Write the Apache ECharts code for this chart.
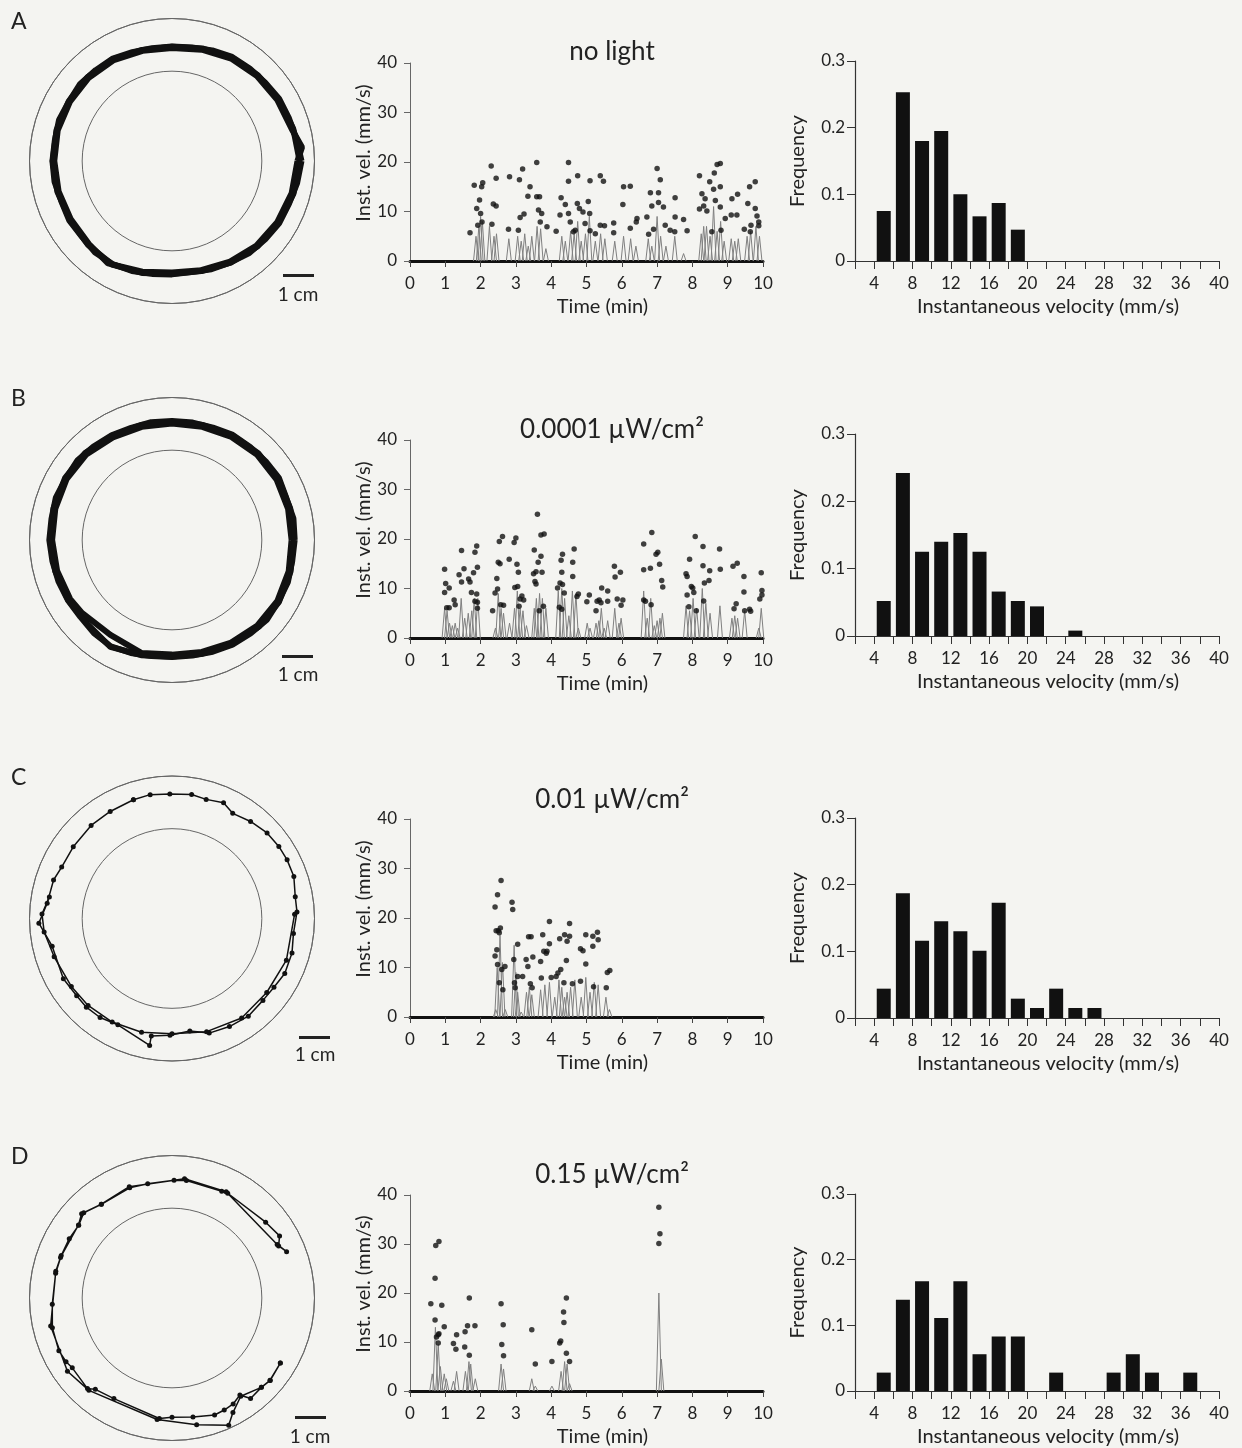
<!DOCTYPE html>
<html>
<head>
<meta charset="utf-8">
<script src="https://cdn.jsdelivr.net/npm/echarts@6/dist/echarts.min.js"></script>
<style>
  html, body { margin: 0; padding: 0; background: #f4f4f1; }
  #chart { width: 1242px; height: 1448px; }
</style>
</head>
<body>
<div id="chart"></div>
<script>
const FONT = 'Lato, "Noto Sans", sans-serif';

// panel labels and titles
const rowLetters = ['A', 'B', 'C', 'D'];
const rowTitles = ['no light', '0.0001 µW/cm²', '0.01 µW/cm²', '0.15 µW/cm²'];

// histogram bins (centres, mm/s) and frequencies
const binCenters = [5, 7, 9, 11, 13, 15, 17, 19, 21, 23, 25, 27, 29, 31, 33, 35, 37, 39];
const freqA = [0.075, 0.253, 0.18, 0.195, 0.10, 0.067, 0.087, 0.047, 0, 0, 0, 0, 0, 0, 0, 0, 0, 0];
const freqB = [0.052, 0.242, 0.125, 0.14, 0.153, 0.125, 0.066, 0.052, 0.044, 0, 0.008, 0, 0, 0, 0, 0, 0, 0];
const freqC = [0.044, 0.187, 0.116, 0.145, 0.13, 0.101, 0.173, 0.029, 0.015, 0.044, 0.015, 0.015, 0, 0, 0, 0, 0, 0];
const freqD = [0.028, 0.139, 0.167, 0.111, 0.167, 0.056, 0.083, 0.083, 0, 0.028, 0, 0, 0.028, 0.056, 0.028, 0, 0.028, 0];

// instantaneous velocity dots [min, mm/s]
const dotsA = [[1.70,5.7],[1.82,15.3],[1.89,10.6],[1.92,7.2],[1.97,12.3],[2.0,9.6],[2.03,15.0],[2.06,15.8],[2.04,7.9],[2.30,19.2],[2.32,7.4],[2.36,11.5],[2.44,11.1],[2.44,16.7],[2.79,6.4],[2.82,17.0],[3.07,6.2],[3.12,8.8],[3.10,16.4],[3.19,18.6],[3.23,9.5],[3.34,13.1],[3.40,15.0],[3.59,19.9],[3.59,13.0],[3.67,13.0],[3.64,10.3],[3.69,7.9],[3.73,9.6],[3.88,6.9],[4.14,6.0],[4.28,12.8],[4.25,9.3],[4.40,11.4],[4.49,19.9],[4.49,16.1],[4.49,9.6],[4.54,7.9],[4.63,5.9],[4.68,6.2],[4.74,11.6],[4.75,17.2],[4.80,10.6],[4.90,9.9],[4.96,7.6],[5.05,12.0],[5.10,16.2],[5.09,9.6],[5.10,6.1],[5.25,5.5],[5.39,17.2],[5.39,7.2],[5.48,16.1],[5.51,7.1],[5.77,7.7],[5.77,5.7],[6.03,11.4],[6.05,15.0],[6.24,15.1],[6.24,6.6],[6.41,7.9],[6.43,8.6],[6.71,8.9],[6.76,5.4],[6.81,13.8],[6.85,11.1],[6.90,6.4],[7.0,18.7],[7.04,13.8],[7.04,11.8],[7.09,16.4],[7.18,10.9],[7.23,7.2],[7.37,6.2],[7.50,5.9],[7.51,12.8],[7.51,8.9],[7.75,8.4],[7.85,6.1],[8.20,17.2],[8.20,10.5],[8.27,13.6],[8.32,11.1],[8.36,12.6],[8.41,10.1],[8.49,16.0],[8.55,5.9],[8.62,17.8],[8.60,14.5],[8.65,12.2],[8.70,19.5],[8.79,19.7],[8.79,15.0],[8.79,10.9],[8.81,6.2],[8.93,8.6],[9.10,9.3],[9.12,12.6],[9.26,9.3],[9.28,13.5],[9.47,6.4],[9.57,11.6],[9.62,15.0],[9.64,5.9],[9.66,7.2],[9.78,16.0],[9.78,10.6],[9.83,9.1],[9.88,7.9],[9.88,7.1]];
const dotsB = [[0.98,13.9],[0.98,9.2],[1.01,11.0],[1.04,6.1],[1.11,6.1],[1.11,10.1],[1.25,7.7],[1.28,6.7],[1.39,12.8],[1.46,17.7],[1.46,11.3],[1.53,14.0],[1.66,11.9],[1.70,11.3],[1.74,9.2],[1.80,13.2],[1.84,17.3],[1.84,7.4],[1.89,18.6],[1.91,14.3],[1.89,8.9],[1.91,7.2],[1.91,6.0],[2.34,5.5],[2.41,9.1],[2.46,12.0],[2.48,9.9],[2.50,15.3],[2.55,15.0],[2.53,19.5],[2.62,20.5],[2.57,6.7],[2.65,6.6],[2.81,15.9],[2.95,19.3],[3.0,20.2],[3.03,14.9],[2.97,10.2],[3.05,10.4],[3.07,13.3],[3.09,6.4],[3.12,7.9],[3.17,8.5],[3.22,7.7],[3.52,17.8],[3.50,13.0],[3.57,13.4],[3.54,11.4],[3.57,10.9],[3.61,25.0],[3.63,15.3],[3.71,16.5],[3.71,20.8],[3.80,21.0],[3.74,13.3],[3.66,5.5],[3.78,6.4],[4.18,10.1],[4.25,11.1],[4.28,15.7],[4.32,16.9],[4.30,13.3],[4.32,10.8],[4.37,9.1],[4.23,6.2],[4.30,5.8],[4.61,15.3],[4.61,12.4],[4.65,18.0],[4.73,8.4],[4.77,8.9],[5.01,7.3],[5.08,8.7],[5.27,5.5],[5.30,7.4],[5.36,7.7],[5.43,10.1],[5.41,7.1],[5.60,7.4],[5.60,9.5],[5.79,14.5],[5.81,12.3],[5.96,13.3],[5.87,7.9],[5.98,6.6],[6.03,7.7],[6.62,19.0],[6.62,13.8],[6.62,7.7],[6.67,7.4],[6.81,14.1],[6.85,21.3],[6.83,6.7],[6.97,16.9],[7.02,17.3],[7.07,14.9],[7.13,11.6],[7.16,10.3],[7.82,13.0],[7.85,12.4],[7.85,8.7],[7.90,6.3],[7.92,15.9],[7.97,10.4],[8.01,10.1],[8.04,9.2],[8.11,5.5],[8.08,20.5],[8.30,14.6],[8.30,18.5],[8.32,7.5],[8.34,11.1],[8.47,11.6],[8.49,13.6],[8.77,18.0],[8.79,13.9],[9.15,14.5],[9.18,5.9],[9.24,6.9],[9.27,15.1],[9.46,12.4],[9.46,9.3],[9.48,5.5],[9.62,5.8],[9.65,5.4],[9.91,7.9],[9.95,13.2],[9.97,8.7],[9.97,9.6]];
const dotsC = [[2.41,12.3],[2.41,22.2],[2.44,17.4],[2.46,13.6],[2.48,24.7],[2.48,10.6],[2.50,17.4],[2.53,17.0],[2.53,6.9],[2.56,18.0],[2.58,27.6],[2.60,9.6],[2.63,5.5],[2.69,10.2],[2.89,23.2],[2.91,21.7],[2.94,11.6],[2.96,6.9],[2.98,5.9],[3.05,14.7],[3.05,8.2],[3.19,8.2],[3.29,11.6],[3.34,10.2],[3.36,16.2],[3.43,16.2],[3.41,6.7],[3.46,5.9],[3.48,12.1],[3.70,11.2],[3.72,7.9],[3.76,16.6],[3.79,13.3],[3.86,12.9],[3.88,13.3],[3.95,19.3],[3.95,14.8],[4.0,8.0],[4.14,8.2],[4.19,8.9],[4.24,15.8],[4.27,9.6],[4.36,6.9],[4.38,16.6],[4.43,11.4],[4.45,15.3],[4.52,16.3],[4.52,18.9],[4.60,6.7],[4.83,7.2],[4.83,13.8],[4.90,13.4],[4.98,16.6],[4.98,10.7],[5.18,16.3],[5.18,14.3],[5.20,6.1],[5.31,17.1],[5.33,15.6],[5.56,5.9],[5.59,9.0],[5.66,9.4]];
const dotsD = [[0.59,17.8],[0.71,23.0],[0.73,29.7],[0.71,14.5],[0.75,11.0],[0.80,11.5],[0.80,9.8],[0.82,30.5],[0.82,11.7],[0.90,17.5],[0.97,13.1],[1.23,9.7],[1.30,8.5],[1.32,11.5],[1.55,9.0],[1.56,12.1],[1.63,13.3],[1.68,19.0],[1.68,7.3],[1.84,13.3],[2.58,17.8],[2.60,9.5],[2.64,13.5],[2.65,7.2],[3.45,12.5],[3.55,5.5],[4.02,6.0],[4.24,9.8],[4.27,10.2],[4.35,16.1],[4.36,14.0],[4.43,19.0],[4.43,7.7],[4.52,6.0],[7.05,37.5],[7.08,32.1],[7.05,30.1]];

// continuous velocity trace: peak [min, mm/s]
const spikesA = [[1.87,5],[1.95,7],[2.0,9],[2.05,8],[2.25,7],[2.38,5],[2.45,5.5],[2.80,4.5],[3.05,5],[3.15,4],[3.25,5.5],[3.35,3],[3.45,5],[3.60,7],[3.70,6.5],[3.85,2.5],[4.30,5],[4.40,4],[4.55,6],[4.65,5.5],[4.75,8],[4.85,4],[4.97,5.5],[5.08,9],[5.25,4],[5.40,5.5],[5.52,4.5],[5.80,4],[6.05,5],[6.25,4.5],[6.40,3],[6.75,4.5],[6.85,3],[7.0,9],[7.10,5],[7.25,3],[7.50,5],[7.75,1.5],[8.25,5.5],[8.32,7],[8.40,7],[8.50,5],[8.60,11],[8.70,6],[8.80,8],[8.90,4],[9.10,4.5],[9.20,4],[9.30,4.5],[9.55,5],[9.65,6],[9.80,7],[9.90,5]];
const spikesB = [[0.98,6],[1.05,5.5],[1.12,3],[1.20,2.5],[1.28,3],[1.35,2],[1.45,8],[1.55,4],[1.65,5],[1.75,5.5],[1.82,8],[1.92,8],[2.42,2],[2.50,9],[2.58,6],[2.65,5],[2.82,3],[2.96,6],[3.04,9.5],[3.12,6],[3.20,5.5],[3.30,2.5],[3.52,6],[3.58,8],[3.67,9],[3.75,8],[3.85,6],[4.20,9.5],[4.30,10],[4.38,8],[4.50,4.5],[4.60,9.5],[4.70,9],[4.77,2],[5.02,3],[5.10,2],[5.27,3],[5.35,3.5],[5.42,6],[5.50,2],[5.60,3.5],[5.80,6],[5.92,3],[5.98,4],[6.62,9.5],[6.72,4],[6.82,8],[6.92,2.5],[7.0,3.5],[7.08,4],[7.15,5],[7.82,6.5],[7.92,5.5],[8.02,8],[8.12,6],[8.28,10],[8.38,7],[8.50,5],[8.78,6.5],[9.12,4],[9.20,4.5],[9.28,4],[9.48,5.5],[9.88,2],[9.95,6]];
const spikesC = [[2.43,1.5],[2.47,10],[2.55,16.5],[2.62,11],[2.70,1.5],[2.95,14.5],[3.00,9],[3.05,5],[3.15,1],[3.30,5],[3.38,6],[3.45,4.5],[3.70,5.5],[3.82,6.5],[3.95,7],[4.10,4],[4.22,7.5],[4.30,6],[4.38,4],[4.45,5],[4.55,6],[4.67,7.5],[4.85,4],[4.98,8],[5.10,5],[5.22,7],[5.33,6.5],[5.55,4],[5.65,1.5]];
const spikesD = [[0.63,3.5],[0.72,13],[0.80,9.5],[0.86,5],[0.97,3.5],[1.03,2.5],[1.23,2],[1.32,4],[1.57,4],[1.67,6],[1.72,5.5],[1.85,2.5],[2.58,5.5],[2.65,4.5],[3.45,2.5],[3.55,1],[4.02,1],[4.28,4],[4.38,6],[4.45,5.5],[4.52,1.5],[7.05,20],[7.12,6.5]];

// arena trajectories [radius cm, angle deg ccw from east]
const pathA1 = [[4.12,0],[4.05,15],[3.97,30],[3.92,45],[3.86,60],[3.76,75],[3.69,90],[3.71,105],[3.80,120],[3.84,135],[3.85,150],[3.86,165],[3.85,180],[3.83,195],[3.80,210],[3.83,225],[3.86,240],[3.74,255],[3.64,270],[3.68,285],[3.79,300],[3.90,315],[3.97,330],[4.06,345],[4.12,360]];
const pathA2 = [[4.05,0],[4.22,6],[4.0,15],[3.93,30],[3.88,45],[3.82,60],[3.72,75],[3.65,90],[3.68,105],[3.76,120],[3.80,135],[3.81,150],[3.82,165],[3.80,180],[3.79,195],[3.77,210],[3.79,225],[3.90,238],[3.70,255],[3.60,270],[3.65,285],[3.75,300],[3.86,315],[3.93,330],[4.0,345],[4.05,360]];
const pathA3 = [[4.18,0],[4.08,10],[4.02,20],[4.0,30],[3.93,40],[3.90,50],[3.88,60],[3.80,70],[3.72,80],[3.70,90],[3.70,100],[3.74,110],[3.82,120],[3.83,130],[3.87,140],[3.84,150],[3.88,160],[3.84,170],[3.86,180],[3.85,190],[3.80,200],[3.83,210],[3.80,220],[3.86,230],[3.84,240],[3.78,250],[3.70,260],[3.66,270],[3.64,280],[3.72,290],[3.78,300],[3.88,310],[3.93,320],[4.0,330],[4.02,340],[4.10,350],[4.18,360]];
const pathB1 = [[3.93,0],[3.95,15],[3.96,30],[3.95,45],[3.90,60],[3.84,75],[3.82,90],[3.84,105],[3.88,120],[3.97,135],[3.99,150],[3.96,165],[3.93,180],[3.90,195],[3.87,210],[3.85,225],[3.98,240],[3.85,255],[3.76,270],[3.80,285],[3.88,300],[3.96,315],[3.99,330],[3.96,345],[3.93,360]];
const pathB2 = [[3.86,0],[3.88,15],[3.90,30],[3.89,45],[3.84,60],[3.78,75],[3.76,90],[3.78,105],[3.82,120],[3.91,135],[3.93,150],[3.90,165],[3.87,180],[3.84,195],[3.80,210],[3.74,219],[3.65,237],[3.78,255],[3.70,270],[3.74,285],[3.82,300],[3.90,315],[3.93,330],[3.90,345],[3.86,360]];
const pathB3 = [[3.96,0],[3.98,10],[3.93,20],[3.99,30],[3.95,40],[3.92,50],[3.92,60],[3.86,70],[3.85,80],[3.84,90],[3.86,100],[3.85,110],[3.90,120],[3.94,130],[3.99,140],[3.96,150],[3.99,160],[3.95,170],[3.96,180],[3.92,190],[3.90,200],[3.88,210],[3.86,220],[3.92,230],[3.96,240],[3.88,250],[3.80,260],[3.78,270],[3.79,280],[3.84,290],[3.90,300],[3.94,310],[4.0,320],[3.97,330],[3.98,340],[3.94,350],[3.96,360]];
const pathC1 = [[4.03,108],[4.06,100],[4.02,91],[4.05,81],[4.0,74],[4.09,66],[3.92,60],[4.03,51],[4.13,42],[4.16,34],[4.17,27],[4.16,19],[4.04,10],[4.04,3],[3.95,353],[4.03,344],[4.05,334],[3.97,326],[3.95,318],[4.0,308],[3.95,298],[3.89,288],[3.68,279],[3.77,269],[3.85,260],[4.16,260],[3.85,243],[3.95,234],[3.98,226],[3.96,219],[4.01,209],[3.97,193],[4.3,182],[4.06,173],[4.02,162],[3.93,155],[3.94,144],[3.98,131],[3.99,120],[4.03,108]];
const pathC2 = [[3.96,2],[3.93,340],[3.88,322],[3.92,305],[3.82,287],[3.72,270],[3.80,255],[3.86,240],[3.90,226],[3.92,214],[4.0,198],[4.15,186],[4.2,178],[4.02,170]];
const pathD = [[4.08,329],[4.14,320],[4.08,315],[4.12,308],[3.82,305],[3.95,300],[3.99,295],[4.02,290],[3.90,280],[3.85,270],[3.91,264],[3.75,240],[3.85,230],[4.0,227],[3.93,215],[3.99,211],[4.03,205],[3.98,194],[3.87,183],[3.84,168],[3.83,159],[3.83,150],[3.82,142],[3.96,136],[3.79,127],[3.81,111],[3.77,102],[3.80,89],[3.82,83],[3.80,65],[3.83,62],[3.89,39],[4.01,30],[3.83,26],[3.99,22],[3.81,27],[3.85,63],[3.87,84],[3.85,111],[3.79,127],[3.99,137],[3.83,142],[3.83,160],[3.85,167],[4.02,193],[4.12,215],[4.01,228],[3.95,263],[4.17,281],[4.5,294],[4.19,298],[3.87,305],[4.08,315],[4.13,320],[4.08,329]];

// layout per row (pixels)
const rows = [
  { cy: 161,    tsTop: 63,   tsH: 198, hTop: 61,   hH: 200, barX: 283, barY: 274,  cmX: 298, cmY: 295,  letterY: 22,   titleY: 52 },
  { cy: 540,    tsTop: 440,  tsH: 198, hTop: 434,  hH: 202, barX: 282, barY: 655,  cmX: 298, cmY: 675,  letterY: 399,  titleY: 430 },
  { cy: 918.5,  tsTop: 819,  tsH: 198, hTop: 818,  hH: 200, barX: 299, barY: 1036, cmX: 315, cmY: 1055, letterY: 778,  titleY: 800 },
  { cy: 1298,   tsTop: 1195, tsH: 200, hTop: 1194, hH: 199, barX: 295, barY: 1416, cmX: 310, cmY: 1437, letterY: 1157, titleY: 1175 }
];
const paths = [[pathA1, pathA2, pathA3], [pathB1, pathB2, pathB3], [pathC1, pathC2], [pathD]];
const pathDots = [false, false, true, true];
const dots = [dotsA, dotsB, dotsC, dotsD];
const spikes = [spikesA, spikesB, spikesC, spikesD];
const freqs = [freqA, freqB, freqC, freqD];

const labelStyle = { color: '#222', fontSize: 17, fontFamily: FONT };
const nameStyle = { color: '#222', fontSize: 20, fontFamily: FONT };

const grid = [], xAxis = [], yAxis = [], polar = [], angleAxis = [], radiusAxis = [], series = [], graphic = [];

rows.forEach((r, i) => {
  // trajectory arena
  polar.push({ center: [172, r.cy], radius: 142.5 });
  angleAxis.push({
    polarIndex: i, type: 'value', min: 0, max: 360, startAngle: 0, clockwise: false,
    axisLine: { show: true, lineStyle: { color: '#666', width: 1 } },
    axisTick: { show: false }, axisLabel: { show: false }, splitLine: { show: false }
  });
  radiusAxis.push({
    polarIndex: i, type: 'value', min: 0, max: 4.6, interval: 2.9,
    axisLine: { show: false }, axisTick: { show: false }, axisLabel: { show: false },
    splitLine: { show: true, lineStyle: { color: '#666', width: 1 } }
  });
  paths[i].forEach(p => {
    series.push({
      type: 'line', coordinateSystem: 'polar', polarIndex: i, data: p,
      showSymbol: pathDots[i], symbol: 'circle', symbolSize: 5,
      itemStyle: { color: '#111' },
      lineStyle: { color: '#111', width: pathDots[i] ? 1.5 : 6 },
      silent: true, animation: false
    });
  });

  // time course
  grid.push({ left: 410, top: r.tsTop, width: 353, height: r.tsH });
  xAxis.push({
    gridIndex: 2 * i, type: 'value', min: 0, max: 10, interval: 1,
    name: 'Time (min)', nameLocation: 'middle', nameGap: 36,
    nameTextStyle: Object.assign({ padding: [0, 0, 0, 32] }, nameStyle),
    axisLine: { lineStyle: { color: '#111', width: 3 } },
    axisTick: { length: 6, lineStyle: { color: '#444', width: 1 } },
    axisLabel: Object.assign({ margin: 14 }, labelStyle),
    splitLine: { show: false }
  });
  yAxis.push({
    gridIndex: 2 * i, type: 'value', min: 0, max: 40, interval: 10,
    name: 'Inst. vel. (mm/s)', nameLocation: 'middle', nameGap: 33,
    nameTextStyle: Object.assign({ padding: [0, 0, 0, 18] }, nameStyle),
    axisLine: { show: true, lineStyle: { color: '#666', width: 1 } },
    axisTick: { show: true, length: 6, lineStyle: { color: '#666' } },
    axisLabel: Object.assign({ margin: 13 }, labelStyle),
    splitLine: { show: false }
  });
  series.push({
    type: 'custom', xAxisIndex: 2 * i, yAxisIndex: 2 * i, data: spikes[i],
    encode: { x: 0, y: 1 }, silent: true, animation: false,
    renderItem: (params, api) => {
      const base = api.coord([api.value(0), 0]);
      const top = api.coord([api.value(0), api.value(1)]);
      return {
        type: 'polyline',
        shape: { points: [[base[0] - 2.5, base[1]], top, [base[0] + 2.5, base[1]]] },
        style: { stroke: '#808080', lineWidth: 1, fill: null }
      };
    }
  });
  series.push({
    type: 'scatter', xAxisIndex: 2 * i, yAxisIndex: 2 * i, data: dots[i],
    symbolSize: 5.5, itemStyle: { color: '#111' }, silent: true, animation: false
  });

  // histogram
  grid.push({ left: 855, top: r.hTop, width: 364, height: r.hH });
  xAxis.push({
    gridIndex: 2 * i + 1, type: 'value', min: 2, max: 40, interval: 2,
    name: 'Instantaneous velocity (mm/s)', nameLocation: 'middle', nameGap: 36,
    nameTextStyle: Object.assign({ padding: [0, 0, 0, 22] }, nameStyle),
    axisLine: { lineStyle: { color: '#333', width: 1.2 } },
    axisTick: { length: 8, lineStyle: { color: '#333', width: 1 } },
    axisLabel: Object.assign({ margin: 14, formatter: v => (v % 4 === 0 ? String(v) : '') }, labelStyle),
    splitLine: { show: false }
  });
  yAxis.push({
    gridIndex: 2 * i + 1, type: 'value', min: 0, max: 0.3, interval: 0.1,
    name: 'Frequency', nameLocation: 'middle', nameGap: 47, nameTextStyle: nameStyle,
    axisLine: { show: true, lineStyle: { color: '#333', width: 1.2 } },
    axisTick: { show: true, length: 8, lineStyle: { color: '#333' } },
    axisLabel: Object.assign({ margin: 10 }, labelStyle),
    splitLine: { show: false }
  });
  series.push({
    type: 'bar', xAxisIndex: 2 * i + 1, yAxisIndex: 2 * i + 1,
    data: binCenters.map((c, k) => [c, freqs[i][k]]),
    barWidth: 14, itemStyle: { color: '#111' }, silent: true, animation: false
  });

  // annotations: panel letter, condition title, scale bar
  graphic.push({ type: 'text', x: 11, y: r.letterY,
    style: { text: rowLetters[i], font: '23px ' + FONT, fill: '#222', textVerticalAlign: 'middle' } });
  graphic.push({ type: 'text', x: 612, y: r.titleY,
    style: { text: rowTitles[i], font: '26px ' + FONT, fill: '#222', textAlign: 'center', textVerticalAlign: 'middle' } });
  graphic.push({ type: 'rect', shape: { x: r.barX, y: r.barY, width: 31, height: 3 }, style: { fill: '#222' } });
  graphic.push({ type: 'text', x: r.cmX, y: r.cmY,
    style: { text: '1 cm', font: '19px ' + FONT, fill: '#222', textAlign: 'center', textVerticalAlign: 'middle' } });
});

const chart = echarts.init(document.getElementById('chart'), null, { renderer: 'canvas' });
chart.setOption({
  backgroundColor: '#f4f4f1',
  animation: false,
  textStyle: { fontFamily: FONT },
  grid, xAxis, yAxis, polar, angleAxis, radiusAxis, series, graphic
});
</script>
</body>
</html>
